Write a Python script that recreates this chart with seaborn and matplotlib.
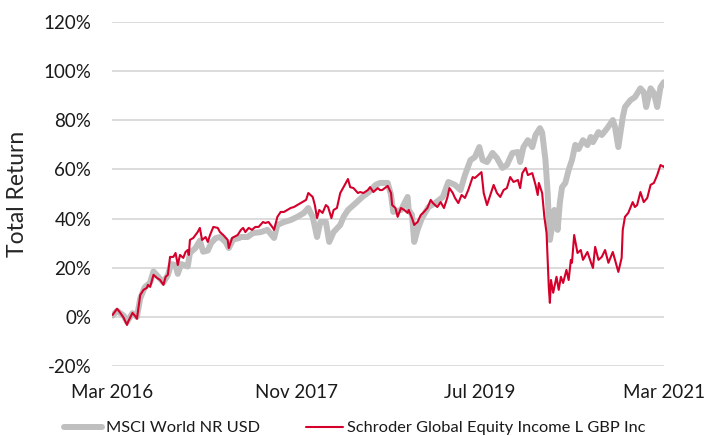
"""Total return: Schroder Global Equity Income L GBP Inc vs MSCI World NR USD."""
import matplotlib

matplotlib.use("Agg")
import matplotlib.pyplot as plt
import numpy as np
import pandas as pd
import seaborn as sns
from matplotlib.ticker import FuncFormatter

# time stamps as decimal years, returns in percent
msci_t = [
    2016.17, 2016.21, 2016.27, 2016.30, 2016.35, 2016.39, 2016.42, 2016.46, 2016.51, 2016.54,
    2016.58, 2016.63, 2016.67, 2016.70, 2016.74, 2016.76, 2016.79, 2016.85, 2016.87, 2016.92,
    2016.96, 2016.99, 2017.03, 2017.06, 2017.10, 2017.14, 2017.19, 2017.22, 2017.26, 2017.31,
    2017.33, 2017.39, 2017.44, 2017.51, 2017.57, 2017.63, 2017.66, 2017.72, 2017.78, 2017.84,
    2017.90, 2017.94, 2017.98, 2018.02, 2018.05, 2018.10, 2018.13, 2018.17, 2018.23, 2018.26,
    2018.30, 2018.37, 2018.43, 2018.49, 2018.55, 2018.59, 2018.66, 2018.69, 2018.71, 2018.78,
    2018.84, 2018.85, 2018.88, 2018.90, 2018.93, 2018.97, 2019.03, 2019.09, 2019.16, 2019.21,
    2019.27, 2019.32, 2019.36, 2019.41, 2019.45, 2019.49, 2019.52, 2019.56, 2019.61, 2019.65,
    2019.70, 2019.74, 2019.79, 2019.84, 2019.86, 2019.89, 2019.93, 2019.97, 2020.00, 2020.04,
    2020.06, 2020.09, 2020.11, 2020.12, 2020.13, 2020.15, 2020.17, 2020.20, 2020.22, 2020.24,
    2020.27, 2020.30, 2020.33, 2020.36, 2020.39, 2020.43, 2020.47, 2020.50, 2020.52, 2020.57,
    2020.60, 2020.65, 2020.70, 2020.72, 2020.75, 2020.79, 2020.81, 2020.86, 2020.90, 2020.95,
    2020.98, 2021.00, 2021.04, 2021.07, 2021.10, 2021.13, 2021.16, 2021.17,
]
msci_ret = [
    0.5, 2.5, 0.5, -2.0, 1.5, 0.0, 7.5, 12.0, 14.0, 18.5,
    16.5, 14.0, 17.0, 21.5, 21.0, 17.5, 21.5, 20.5, 26.0, 28.0,
    31.0, 26.5, 27.0, 30.0, 32.0, 32.5, 30.5, 28.0, 31.5, 32.0,
    32.5, 32.5, 34.1, 34.5, 35.4, 32.1, 37.4, 38.6, 39.4, 40.7,
    42.3, 44.3, 40.7, 32.5, 38.6, 38.6, 30.5, 34.5, 37.4, 40.7,
    43.5, 46.3, 48.8, 50.8, 53.7, 54.5, 54.5, 49.6, 42.7, 43.5,
    48.8, 43.5, 41.5, 30.5, 35.4, 40.2, 44.7, 46.3, 48.8, 54.9,
    53.7, 51.6, 57.7, 63.8, 65.0, 69.1, 63.8, 63.0, 66.7, 64.6,
    60.6, 61.8, 66.7, 67.1, 63.0, 69.1, 71.9, 69.1, 74.0, 76.8,
    75.0, 63.8, 50.4, 39.4, 31.3, 36.6, 43.5, 35.4, 46.3, 52.8,
    54.5, 59.8, 63.8, 70.0, 68.3, 71.9, 69.9, 73.2, 71.1, 75.2,
    74.0, 76.8, 80.1, 77.2, 69.1, 81.3, 85.4, 88.2, 89.4, 93.0,
    91.5, 85.4, 93.0, 91.1, 85.4, 93.5, 95.5, 95.5,
]

fund_t = [
    2016.17, 2016.21, 2016.24, 2016.27, 2016.30, 2016.31, 2016.35, 2016.38, 2016.39, 2016.42,
    2016.45, 2016.48, 2016.49, 2016.51, 2016.54, 2016.57, 2016.60, 2016.63, 2016.65, 2016.67,
    2016.69, 2016.72, 2016.74, 2016.76, 2016.78, 2016.81, 2016.83, 2016.85, 2016.86, 2016.87,
    2016.90, 2016.94, 2016.96, 2016.98, 2017.01, 2017.03, 2017.05, 2017.08, 2017.12, 2017.14,
    2017.17, 2017.21, 2017.22, 2017.25, 2017.30, 2017.33, 2017.35, 2017.37, 2017.40, 2017.43,
    2017.46, 2017.49, 2017.53, 2017.55, 2017.58, 2017.62, 2017.63, 2017.66, 2017.69, 2017.72,
    2017.75, 2017.78, 2017.81, 2017.84, 2017.87, 2017.92, 2017.94, 2017.98, 2018.00, 2018.02,
    2018.04, 2018.07, 2018.10, 2018.12, 2018.15, 2018.17, 2018.20, 2018.23, 2018.26, 2018.30,
    2018.32, 2018.35, 2018.39, 2018.41, 2018.44, 2018.48, 2018.50, 2018.53, 2018.57, 2018.59,
    2018.61, 2018.66, 2018.69, 2018.70, 2018.73, 2018.75, 2018.78, 2018.81, 2018.84, 2018.85,
    2018.88, 2018.90, 2018.93, 2018.96, 2018.98, 2019.02, 2019.05, 2019.07, 2019.11, 2019.14,
    2019.17, 2019.20, 2019.22, 2019.25, 2019.27, 2019.30, 2019.33, 2019.36, 2019.39, 2019.43,
    2019.45, 2019.48, 2019.51, 2019.53, 2019.56, 2019.59, 2019.62, 2019.65, 2019.68, 2019.71,
    2019.74, 2019.77, 2019.80, 2019.84, 2019.86, 2019.88, 2019.91, 2019.93, 2019.97, 2020.00,
    2020.02, 2020.03, 2020.06, 2020.08, 2020.10, 2020.11, 2020.12, 2020.13, 2020.14, 2020.16,
    2020.19, 2020.21, 2020.23, 2020.25, 2020.28, 2020.30, 2020.32, 2020.33, 2020.35, 2020.38,
    2020.41, 2020.43, 2020.47, 2020.50, 2020.52, 2020.54, 2020.57, 2020.60, 2020.63, 2020.66,
    2020.70, 2020.72, 2020.75, 2020.78, 2020.79, 2020.81, 2020.84, 2020.88, 2020.90, 2020.92,
    2020.95, 2020.98, 2021.01, 2021.04, 2021.07, 2021.10, 2021.13, 2021.16, 2021.17,
]
fund_ret = [
    0.8, 3.3, 1.6, -0.4, -3.3, -2.0, 1.6, 0.0, -0.8, 8.9,
    11.0, 11.8, 13.0, 12.2, 17.1, 15.9, 15.0, 13.0, 16.3, 17.1,
    24.4, 24.4, 26.0, 21.1, 25.2, 24.0, 26.4, 27.2, 25.2, 31.3,
    32.1, 34.5, 36.2, 31.3, 32.5, 30.5, 33.3, 36.6, 36.2, 34.5,
    33.3, 31.3, 28.0, 32.1, 33.3, 35.4, 36.2, 34.5, 36.2, 35.4,
    36.6, 36.6, 38.6, 38.2, 38.6, 36.2, 35.4, 40.7, 42.7, 42.7,
    43.5, 44.3, 44.7, 45.5, 46.3, 47.6, 50.4, 48.8, 45.5, 40.2,
    43.5, 42.3, 45.5, 44.7, 40.2, 43.5, 44.3, 50.4, 52.8, 56.1,
    52.8, 52.4, 50.4, 50.8, 50.4, 51.6, 52.8, 50.8, 52.4, 51.6,
    51.6, 53.3, 50.4, 45.5, 44.3, 40.7, 44.3, 43.5, 42.3, 43.5,
    40.2, 37.4, 38.6, 41.5, 42.3, 44.3, 47.6, 46.3, 44.7, 46.7,
    44.3, 48.4, 52.4, 50.4, 48.4, 46.3, 49.6, 48.4, 51.6, 56.9,
    56.5, 57.7, 58.9, 50.4, 45.5, 49.6, 53.7, 50.4, 48.8, 51.6,
    52.4, 56.9, 54.9, 55.7, 52.4, 58.5, 60.6, 57.7, 58.5, 53.7,
    49.6, 54.5, 50.4, 40.7, 34.1, 23.2, 12.2, 5.7, 15.0, 9.8,
    16.3, 11.0, 16.3, 13.8, 19.1, 15.0, 23.2, 22.0, 33.3, 26.0,
    27.2, 23.2, 26.4, 22.4, 19.9, 28.5, 23.2, 24.4, 27.2, 22.0,
    26.4, 23.2, 18.3, 24.0, 35.4, 40.7, 42.3, 46.7, 44.7, 45.5,
    50.8, 46.7, 48.4, 53.7, 54.5, 57.7, 61.8, 61.0, 61.8,
]

series_names = ["MSCI World NR USD", "Schroder Global Equity Income L GBP Inc"]
series_colors = ["#bfbfbf", "#d4002b"]
tick_dates = ["2016-03-01", "2017-11-01", "2019-07-01", "2021-03-01"]
tick_labels = ["Mar 2016", "Nov 2017", "Jul 2019", "Mar 2021"]
y_ticks = [-20, 0, 20, 40, 60, 80, 100, 120]


def to_dates(years):
    years = np.asarray(years)
    whole = years.astype(int)
    base = pd.to_datetime([f"{y}-01-01" for y in whole])
    return base + pd.to_timedelta((years - whole) * 365.25, unit="D")


sns.set_theme(style="white")
plt.rcParams["font.family"] = ["Lato", "DejaVu Sans"]
plt.rcParams["text.color"] = "#1a1a1a"

msci = pd.DataFrame({"date": to_dates(msci_t), "ret": msci_ret})
fund = pd.DataFrame({"date": to_dates(fund_t), "ret": fund_ret})

fig = plt.figure(figsize=(7.05, 4.36), dpi=100)
ax = fig.add_axes([112 / 705, 1 - 366 / 436, 552 / 705, 344 / 436])

sns.lineplot(data=msci, x="date", y="ret", ax=ax, color=series_colors[0],
             linewidth=4.3, label=series_names[0])
sns.lineplot(data=fund, x="date", y="ret", ax=ax, color=series_colors[1],
             linewidth=1.5, label=series_names[1])

ax.set_ylim(-20, 120)
ax.set_yticks(y_ticks)
ax.yaxis.set_major_formatter(FuncFormatter(lambda v, _: f"{v:.0f}%"))
ax.set_xlim(pd.Timestamp(tick_dates[0]), pd.Timestamp(tick_dates[-1]))
ax.set_xticks(pd.to_datetime(tick_dates))
ax.set_xticklabels(tick_labels)

ax.grid(axis="y", color="#d9d9d9", linewidth=1.3)
ax.set_axisbelow(True)
sns.despine(ax=ax, left=True, bottom=True)
ax.tick_params(axis="both", length=0, labelsize=13.5, colors="#1a1a1a")
ax.tick_params(axis="y", pad=15)
ax.tick_params(axis="x", pad=13)

ax.set_xlabel("")
ax.set_ylabel("Total Return", fontsize=16.5)
ax.yaxis.set_label_coords(-0.152, 0.5)

ax.get_legend().remove()
handles, labels = ax.get_legend_handles_labels()
fig.legend(handles, labels, loc="center", bbox_to_anchor=(355 / 705, 0.018),
           ncol=2, frameon=False, fontsize=11.8, handlelength=2.3,
           handletextpad=0.25, columnspacing=2.8, borderpad=0)

fig.savefig("out.png", dpi=100)
